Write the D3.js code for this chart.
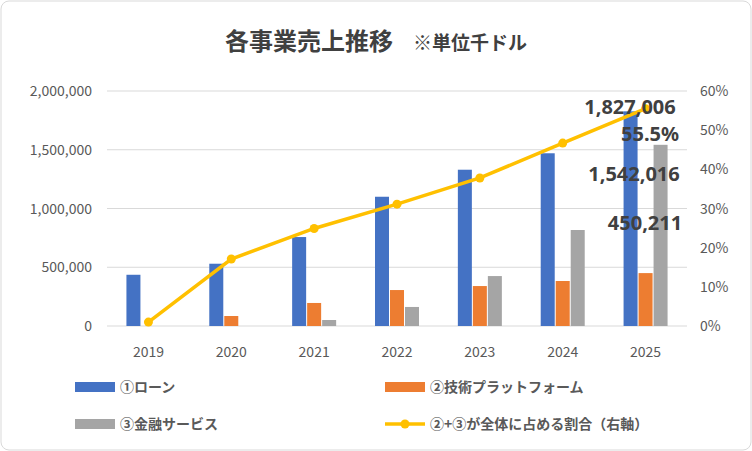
<!DOCTYPE html>
<html><head><meta charset="utf-8">
<script src="https://cdn.jsdelivr.net/npm/d3@7"></script>
<style>body{margin:0;background:#fff}svg{font-family:"Noto Sans CJK JP","Noto Sans",sans-serif}</style>
</head><body><svg id="c" width="752" height="451"></svg>
<script>
const years = ['2019','2020','2021','2022','2023','2024','2025'];
const loan = [436000, 530000, 757000, 1100000, 1330000, 1470000, 1827006];
const tech = [0, 85000, 196000, 306000, 340000, 383000, 450211];
const fin = [0, 0, 51000, 162000, 425000, 817000, 1542016];
const ratio = [0.010, 0.171, 0.249, 0.311, 0.378, 0.467, 0.555];
const leftTicks = [0, 500000, 1000000, 1500000, 2000000];
const rightTicks = [0, .1, .2, .3, .4, .5, .6];
const series = [
  {name: '①ローン', values: loan, color: '#4472c4'},
  {name: '②技術プラットフォーム', values: tech, color: '#ed7d31'},
  {name: '③金融サービス', values: fin, color: '#a5a5a5'}
];

const svg = d3.select('#c');
svg.append('rect').attr('x', 1).attr('y', 1).attr('width', 750).attr('height', 449)
  .attr('rx', 8).attr('fill', '#fff').attr('stroke', '#d9d9d9');

const x = d3.scaleBand().domain(years).range([107, 687]);
const xs = d3.scaleBand().domain([0, 1, 2]).range([0, 45]);
const y = d3.scaleLinear().domain([0, 2000000]).range([326, 91]);
const yr = d3.scaleLinear().domain([0, 0.6]).range([326, 91]);
const cx = d => x(d) + x.bandwidth() / 2;

// grid
svg.append('g').selectAll('line').data(leftTicks).join('line')
  .attr('x1', 107).attr('x2', 687).attr('y1', d => y(d)).attr('y2', d => y(d))
  .attr('stroke', '#d9d9d9');

const ax = svg.append('g').attr('font-size', 14).attr('fill', '#595959');
ax.selectAll('.l').data(leftTicks).join('text').attr('x', 92).attr('y', d => y(d) + 5)
  .attr('text-anchor', 'end').text(d3.format(','));
ax.selectAll('.r').data(rightTicks).join('text').attr('x', 700).attr('y', d => yr(d) + 5)
  .text(d3.format('.0%'));
ax.selectAll('.x').data(years).join('text').attr('x', cx).attr('y', 357)
  .attr('text-anchor', 'middle').text(d => d);

series.forEach((s, i) => {
  svg.append('g').selectAll('rect').data(s.values).join('rect')
    .attr('x', (d, j) => cx(years[j]) - 22.5 + xs(i) + 0.5)
    .attr('width', xs.bandwidth() - 1)
    .attr('y', d => y(d)).attr('height', d => 326 - y(d))
    .attr('fill', s.color);
});

const line = d3.line().x((d, i) => cx(years[i])).y(d => yr(d));
svg.append('path').datum(ratio).attr('d', line).attr('fill', 'none')
  .attr('stroke', '#ffc000').attr('stroke-width', 3.5);
svg.append('g').selectAll('circle').data(ratio).join('circle')
  .attr('cx', (d, i) => cx(years[i])).attr('cy', d => yr(d)).attr('r', 4.5).attr('fill', '#ffc000');

// data labels
const lab = svg.append('g').attr('font-size', 20).attr('font-weight', 'bold').attr('fill', '#404040')
  .attr('font-family', 'Noto Sans, sans-serif');
const last = years.length - 1;
lab.append('text').attr('x', 630).attr('y', y(loan[last]) + 3).attr('text-anchor', 'middle').text(d3.format(',')(loan[last]));
lab.append('text').attr('x', 650).attr('y', yr(ratio[last]) + 32).attr('text-anchor', 'middle').text(d3.format('.1%')(ratio[last]));
lab.append('text').attr('x', 634).attr('y', y(fin[last]) + 36).attr('text-anchor', 'middle').text(d3.format(',')(fin[last]));
lab.append('text').attr('x', 645).attr('y', y(tech[last]) - 43).attr('text-anchor', 'middle').text(d3.format(',')(tech[last]));

// title
const t = svg.append('text').attr('x', 376).attr('y', 50).attr('text-anchor', 'middle').attr('fill', '#404040');
t.append('tspan').attr('font-size', 24).attr('font-weight', 'bold').text('各事業売上推移');
t.append('tspan').attr('font-size', 19).attr('font-weight', 'bold').attr('dx', 20).text('※単位千ドル');

// legend
const leg = [
  {x: 75, y: 387, s: series[0]}, {x: 385, y: 387, s: series[1]},
  {x: 75, y: 424, s: series[2]}, {x: 385, y: 424, s: {name: '②+③が全体に占める割合（右軸）', color: '#ffc000', line: true}}
];
leg.forEach(l => {
  const g = svg.append('g');
  if (l.s.line) {
    g.append('line').attr('x1', l.x).attr('x2', l.x + 40).attr('y1', l.y).attr('y2', l.y)
      .attr('stroke', l.s.color).attr('stroke-width', 3.5);
    g.append('circle').attr('cx', l.x + 20).attr('cy', l.y).attr('r', 4.5).attr('fill', l.s.color);
  } else {
    g.append('rect').attr('x', l.x).attr('y', l.y - 5).attr('width', 40).attr('height', 10).attr('fill', l.s.color);
  }
  g.append('text').attr('x', l.x + 45).attr('y', l.y + 5).attr('font-size', 14).attr('font-weight', 'bold')
    .attr('fill', '#595959').text(l.s.name);
});
</script></body></html>
